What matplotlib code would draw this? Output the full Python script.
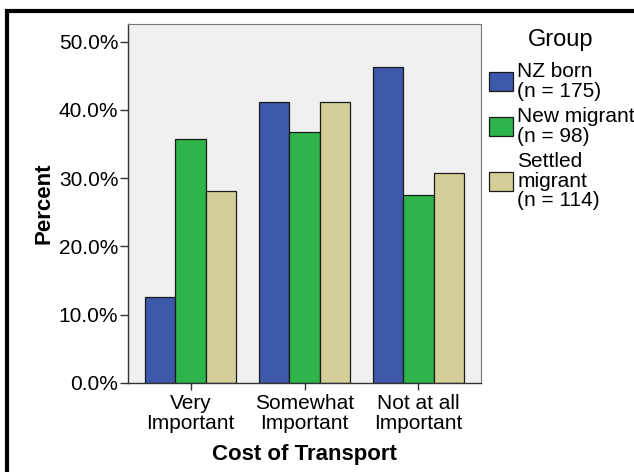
import matplotlib.pyplot as plt
from matplotlib.patches import Rectangle
import numpy as np

plt.rcParams['font.family'] = ['Liberation Sans', 'DejaVu Sans']

categories = ["Very\nImportant", "Somewhat\nImportant", "Not at all\nImportant"]
groups = ["NZ born\n(n = 175)", "New migrant\n(n = 98)", "Settled\nmigrant\n(n = 114)"]
nz_born = [12.57, 41.14, 46.29]
new_migrant = [35.71, 36.73, 27.55]
settled_migrant = [28.07, 41.23, 30.70]
colors = ["#3D58AB", "#2DB44A", "#D4CE98"]
yticks = [0, 10, 20, 30, 40, 50]

fig = plt.figure(figsize=(6.34, 4.72), dpi=100)
ax = fig.add_axes([128 / 634, 1 - 383 / 472, 353 / 634, 359 / 472])
ax.set_facecolor("#F0F0F0")

x = np.arange(len(categories))
w = 0.266
for i, (vals, c, lab) in enumerate(zip([nz_born, new_migrant, settled_migrant], colors, groups)):
    ax.bar(x + (i - 1) * w, vals, width=w, color=c, edgecolor="#1a1a1a",
           linewidth=0.9, label=lab)

ax.set_xlim(-0.55, 2.55)
ax.set_ylim(0, 52.6)
ax.set_yticks(yticks)
ax.set_yticklabels([f"{v:.1f}%" for v in yticks], fontsize=15)
ax.set_xticks(x)
ax.set_xticklabels(categories, fontsize=15, linespacing=1.05)
ax.tick_params(axis="y", direction="out", length=6, width=1, color="#333333", pad=1)
ax.tick_params(axis="x", direction="out", length=5, width=1, color="#333333", pad=3)

for s in ["left", "bottom"]:
    ax.spines[s].set_color("#333333")
    ax.spines[s].set_linewidth(1.0)
for s in ["top", "right"]:
    ax.spines[s].set_color("#777777")
    ax.spines[s].set_linewidth(0.8)

ax.set_ylabel("Percent", fontsize=16, fontweight="bold", labelpad=3)
ax.set_xlabel("Cost of Transport", fontsize=16, fontweight="bold", labelpad=8)

fig.text(561 / 634, 1 - 40 / 472, "Group", fontsize=17, ha="center", va="center")
leg = fig.legend(loc="upper left", bbox_to_anchor=(489 / 634, 1 - 62 / 472),
                 frameon=False, fontsize=15,
                 handlelength=1.15, handleheight=1.0, handletextpad=0.2,
                 labelspacing=0.3, borderpad=0, borderaxespad=0)
for t in leg.get_texts():
    t.set_linespacing(1.05)

# outer frame
fig.patches.append(Rectangle((7 / 634, -0.05), 1, 1 - 11 / 472 + 0.05,
                             transform=fig.transFigure, fill=False,
                             edgecolor="black", linewidth=3))

fig.savefig("out.png", dpi=100)
